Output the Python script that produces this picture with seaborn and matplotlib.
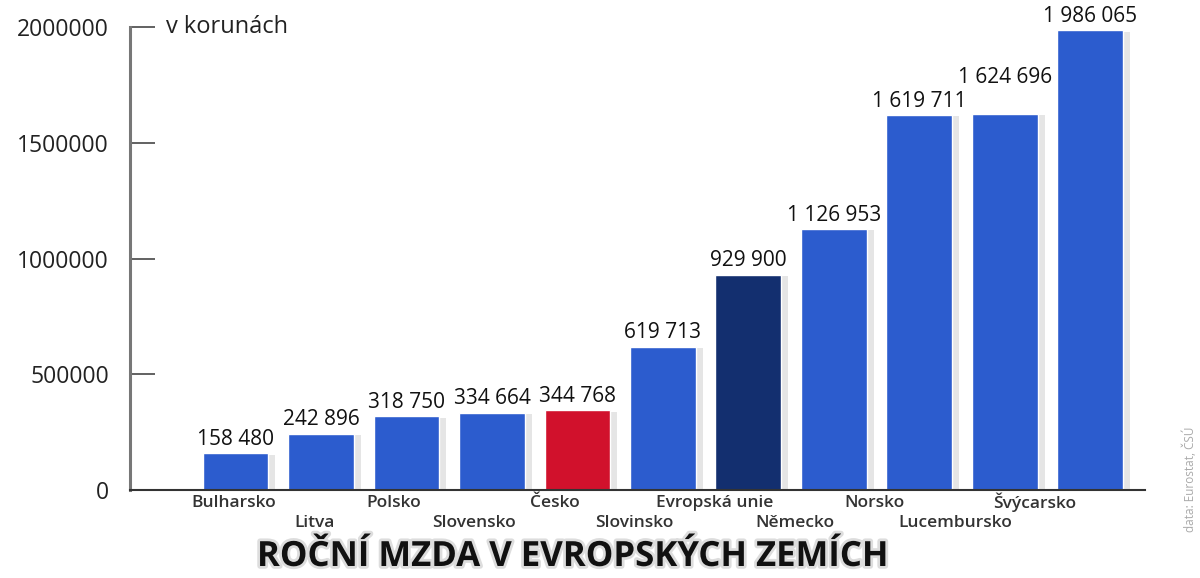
import matplotlib
matplotlib.use('Agg')
import matplotlib.pyplot as plt
import matplotlib.patheffects as pe
import seaborn as sns
import pandas as pd

countries = ['Bulharsko', 'Litva', 'Polsko', 'Slovensko', 'Česko', 'Slovinsko',
             'Evropská unie', 'Německo', 'Norsko', 'Lucembursko', 'Švýcarsko']
wages = [158480, 242896, 318750, 334664, 344768, 619713,
         929900, 1126953, 1619711, 1624696, 1986065]
yticks = [0, 500000, 1000000, 1500000, 2000000]

blue = '#2c5cce'
colors = [blue] * len(countries)
colors[countries.index('Česko')] = '#d1112c'
colors[countries.index('Evropská unie')] = '#132f6f'

df = pd.DataFrame({'Stat': countries, 'Mzda': wages})

sns.set_style('white')
plt.rcParams['font.family'] = ['Open Sans', 'DejaVu Sans']

fig = plt.figure(figsize=(12, 5.78), dpi=100)
ax = fig.add_axes([130 / 1200, 1 - 490 / 578, (1145 - 130) / 1200, (490 - 27) / 578])

sns.barplot(data=df, x='Stat', y='Mzda', hue='Stat', palette=colors, legend=False,
            width=0.77, saturation=1, ax=ax)

for p in ax.patches:
    p.set_path_effects([pe.SimplePatchShadow(offset=(5, -1), shadow_rgbFace='#aaaaaa', alpha=0.3),
                        pe.Normal()])

ax.set_xlim(-1.235, 10.64)
ax.set_ylim(0, 2000000)
ax.set_xlabel('')
ax.set_ylabel('')

# value labels (Lucembursko label sits higher to avoid Norsko's)
for i, v in enumerate(wages):
    extra = 95000 if countries[i] == 'Lucembursko' else 0
    ax.text(i, v + 15000 + extra, f'{v:,}'.replace(',', ' '), ha='center', va='bottom',
            fontsize=15, color='#111111', clip_on=False)

# category labels in two rows
ax.set_xticks([])
for i, c in enumerate(countries):
    lx = -0.018 + i * 0.937
    ly = -0.027 if i % 2 == 0 else -0.071
    ax.text(lx, ly, c, transform=ax.get_xaxis_transform(), ha='center', va='center',
            fontsize=12.5, fontweight='semibold', color='#333333')

ax.set_yticks(yticks)
ax.set_yticklabels([str(t) for t in yticks], fontsize=16.5, color='#222222')
ax.tick_params(axis='y', left=True, direction='in', length=18, width=1.3,
               color='#555555', pad=15)

sns.despine(ax=ax, top=True, right=True)
ax.spines['left'].set_color('#777777')
ax.spines['left'].set_linewidth(2.2)
ax.spines['bottom'].set_color('#333333')
ax.spines['bottom'].set_linewidth(1.5)

ax.text(166 / 1200, 1 - 27 / 578, 'v korunách', transform=fig.transFigure,
        ha='left', va='center', fontsize=17, color='#222222')

fig.text(573 / 1200, 1 - 557 / 578, 'ROČNÍ MZDA V EVROPSKÝCH ZEMÍCH', ha='center', va='center',
         fontsize=25, fontweight='bold', color='#111111',
         path_effects=[pe.withStroke(linewidth=4, foreground='#dddddd')])

fig.text(1190 / 1200, 1 - 479 / 578, 'data: Eurostat, ČSÚ', rotation=90, ha='center', va='center',
         fontsize=8.5, color='#aaaaaa')

fig.savefig('out.png', dpi=100)
